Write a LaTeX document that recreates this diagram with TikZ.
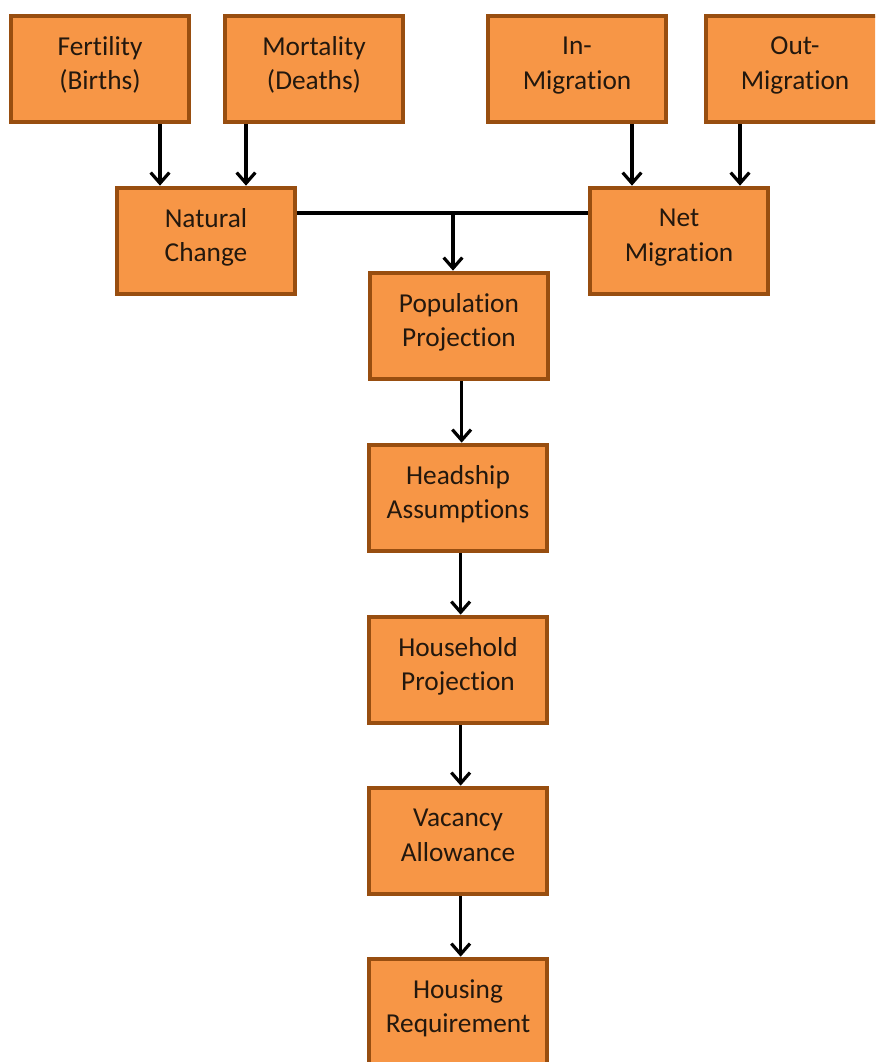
\documentclass[tikz,border=0pt]{standalone}
\usepackage{fontspec}
\setmainfont{Carlito}[Ligatures=CommonOff]
\usetikzlibrary{arrows.meta,calc}

\definecolor{boxfill}{RGB}{247,150,70}
\definecolor{boxline}{RGB}{152,78,16}
\definecolor{boxtext}{RGB}{35,24,14}

\tikzset{
  stepbox/.style={draw=boxline, line width=3pt, fill=boxfill, text=boxtext,
    minimum width=134pt, minimum height=80pt, align=center,
    font=\fontsize{20.5}{26}\selectfont,
    execute at end node={\rule[-9pt]{0pt}{0pt}}},
  flow/.style={line width=2.4pt, -{Straight Barb[length=8pt,width=14pt,line width=2.4pt]}},
}

\begin{document}
\begin{tikzpicture}[x=0.75pt, y=-0.75pt]
    \useasboundingbox (0,0) rectangle (875,1062);
    \clip (0,0) rectangle (875,1062);

    % inputs
    \node[stepbox] (fert)   at (100, 69) {Fertility\\(Births)};
    \node[stepbox] (mort)   at (314, 69) {Mortality\\(Deaths)};
    \node[stepbox] (inmig)  at (577, 69) {In-\\Migration};
    \node[stepbox] (outmig) at (795, 69) {Out-\\Migration};

    \node[stepbox] (nat) at (206, 241) {Natural\\Change};
    \node[stepbox] (net) at (679, 241) {Net\\Migration};

    % main column
    \node[stepbox] (pop)  at (459, 326) {Population\\Projection};
    \node[stepbox] (head) at (458, 498) {Headship\\Assumptions};
    \node[stepbox] (hh)   at (458, 670) {Household\\Projection};
    \node[stepbox] (vac)  at (458, 841) {Vacancy\\Allowance};
    \node[stepbox] (hous) at (458, 1012) {Housing\\Requirement};

    \coordinate (fa) at ($(fert.south)+(60,0)$);
    \coordinate (ma) at ($(mort.south)+(-68,0)$);
    \coordinate (ia) at ($(inmig.south)+(55,0)$);
    \coordinate (oa) at ($(outmig.south)+(-55,0)$);

    \draw[flow] (fa) -- (fa |- nat.north);
    \draw[flow] (ma) -- (ma |- nat.north);
    \draw[flow] (ia) -- (ia |- net.north);
    \draw[flow] (oa) -- (oa |- net.north);

    % join of the two changes
    \coordinate (jn) at (453, 213);
    \draw[line width=2.4pt] (nat.east |- jn) -- (net.west |- jn);
    \draw[flow] (jn) -- (jn |- pop.north);

    \foreach \a/\b in {pop/head, head/hh, hh/vac, vac/hous} {
      \draw[flow] ([xshift=2pt]\a.south) -- ([xshift=2pt]\a.south |- \b.north);
    }
\end{tikzpicture}
\end{document}
